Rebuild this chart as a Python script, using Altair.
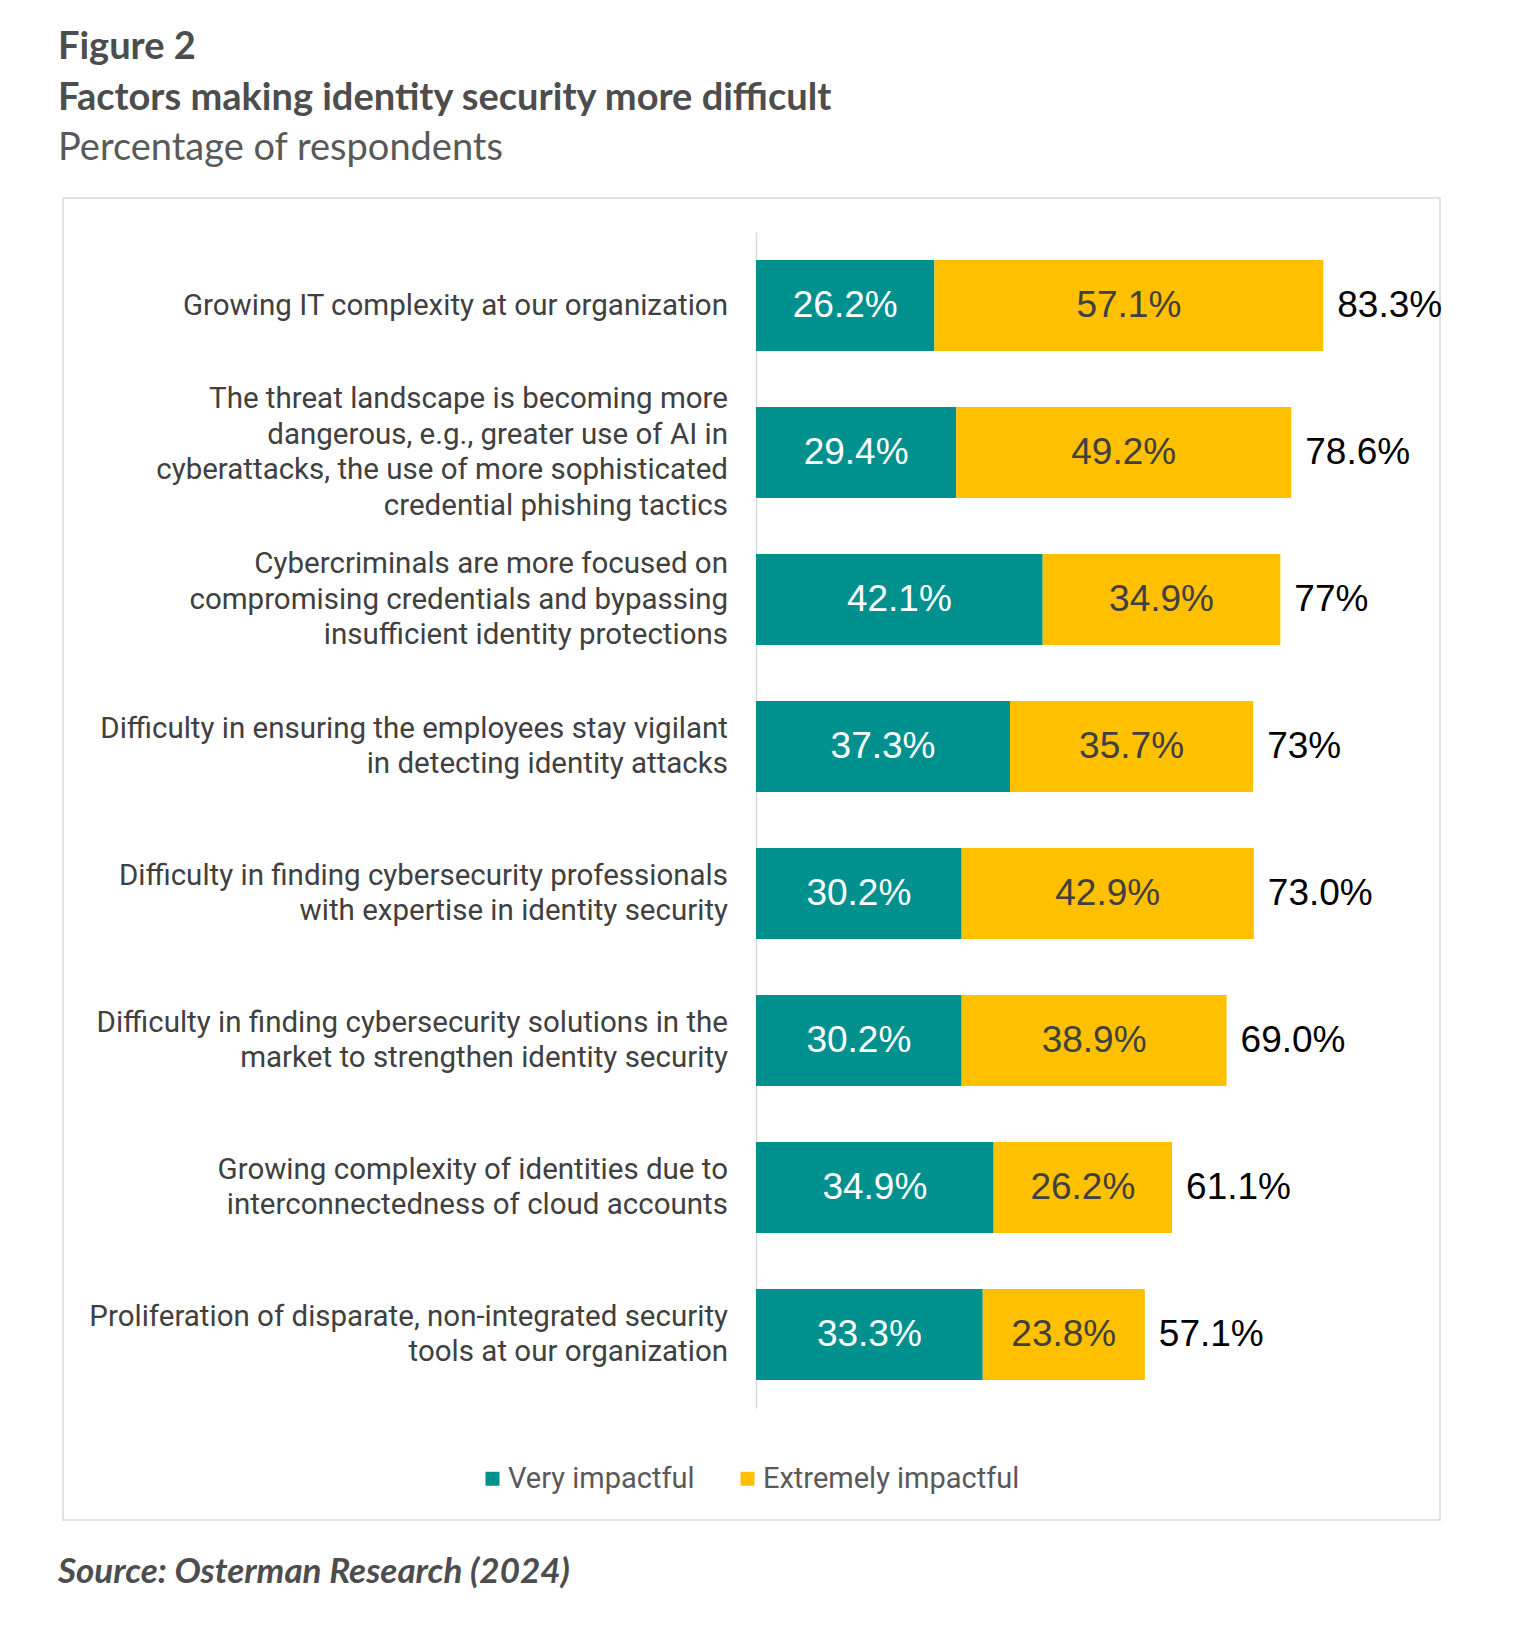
import altair as alt
import pandas as pd

categories = [
    "Growing IT complexity at our organization",
    "The threat landscape is becoming more|dangerous, e.g., greater use of AI in|cyberattacks, the use of more sophisticated|credential phishing tactics",
    "Cybercriminals are more focused on|compromising credentials and bypassing|insufficient identity protections",
    "Difficulty in ensuring the employees stay vigilant|in detecting identity attacks",
    "Difficulty in finding cybersecurity professionals|with expertise in identity security",
    "Difficulty in finding cybersecurity solutions in the|market to strengthen identity security",
    "Growing complexity of identities due to|interconnectedness of cloud accounts",
    "Proliferation of disparate, non-integrated security|tools at our organization",
]
series_names = ["Very impactful", "Extremely impactful"]
very = [26.2, 29.4, 42.1, 37.3, 30.2, 30.2, 34.9, 33.3]
extremely = [57.1, 49.2, 34.9, 35.7, 42.9, 38.9, 26.2, 23.8]
very_labels = ["26.2%", "29.4%", "42.1%", "37.3%", "30.2%", "30.2%", "34.9%", "33.3%"]
extremely_labels = ["57.1%", "49.2%", "34.9%", "35.7%", "42.9%", "38.9%", "26.2%", "23.8%"]
total_labels = ["83.3%", "78.6%", "77%", "73%", "73.0%", "69.0%", "61.1%", "57.1%"]
colors = ["#00918F", "#FFC000"]

title_lines = ["Figure 2", "Factors making identity security more difficult"]
subtitle_text = "Percentage of respondents"
source_text = "Source: Osterman Research (2024)"

rows = []
for i, c in enumerate(categories):
    rows.append({"category": c, "series": series_names[0], "value": very[i], "label": very_labels[i], "order": 0})
    rows.append({"category": c, "series": series_names[1], "value": extremely[i], "label": extremely_labels[i], "order": 1})
df = pd.DataFrame(rows)

tot = pd.DataFrame({
    "category": categories,
    "total": [v + e for v, e in zip(very, extremely)],
    "label": total_labels,
})
cat_df = pd.DataFrame({"category": categories})

W = 681
H = 1176
LH = 35.5
P_INNER = 0.38
P_OUTER = 0.19
step = H / (len(categories) - P_INNER + 2 * P_OUTER)
bandwidth = step * (1 - P_INNER)

xscale = alt.Scale(domain=[0, 100], nice=False)
yscale = alt.Scale(domain=categories, paddingInner=P_INNER, paddingOuter=P_OUTER)
yenc = alt.Y(
    "category:N",
    sort=categories,
    scale=yscale,
    axis=alt.Axis(
        title=None,
        labels=False,
        ticks=False,
        domainColor="#d9d9d9",
        domainWidth=1.5,
        grid=False,
    ),
)

base = alt.Chart(df).transform_stack(
    stack="value", groupby=["category"], as_=["x0", "x1"], sort=[alt.SortField("order")]
).transform_calculate(mid="(datum.x0 + datum.x1) / 2")

bars = base.mark_bar().encode(
    y=yenc,
    x=alt.X("x0:Q", scale=xscale, axis=None),
    x2="x1:Q",
    color=alt.Color(
        "series:N",
        scale=alt.Scale(domain=series_names, range=colors),
        legend=alt.Legend(
            title=None,
            orient="none",
            legendX=-278,
            legendY=1232,
            direction="horizontal",
            symbolType="square",
            symbolSize=196,
            symbolStrokeWidth=0,
            labelFont="Roboto",
            labelFontSize=29,
            labelColor="#595959",
            labelLimit=0,
            columnPadding=38,
            labelOffset=1,
        ),
    ),
)

cat_text = alt.Chart(cat_df).transform_calculate(
    off=f"{bandwidth / 2} - (length(split(datum.category, '|')) - 1) * {LH / 2}"
).mark_text(
    font="Roboto", fontSize=29.5, lineHeight=LH, lineBreak="|", align="right", baseline="middle",
    color="#404040"
).encode(
    y=alt.Y("category:N", sort=categories, scale=yscale),
    yOffset=alt.YOffset("off:Q", scale=None),
    x=alt.value(-28),
    text="category:N",
)

seg_text = base.mark_text(font="Liberation Sans", fontSize=37, align="center", baseline="middle").encode(
    y=alt.Y("category:N", sort=categories, scale=yscale),
    x=alt.X("mid:Q", scale=xscale),
    text="label:N",
    color=alt.condition("datum.series == 'Very impactful'", alt.value("white"), alt.value("#404040")),
)

tot_text = alt.Chart(tot).mark_text(
    font="Liberation Sans", fontSize=37, align="left", baseline="middle", dx=14, color="black"
).encode(
    y=alt.Y("category:N", sort=categories, scale=yscale),
    x=alt.X("total:Q", scale=xscale),
    text="label:N",
)

one = pd.DataFrame({"t": [source_text]})
box = alt.Chart(one).mark_rect(filled=False, stroke="#d9d9d9", strokeWidth=1.5).encode(
    x=alt.value(-693), x2=alt.value(684), y=alt.value(-34), y2=alt.value(1288)
)
source = alt.Chart(one).mark_text(
    align="left", baseline="alphabetic", font="Lato", fontWeight="bold", fontStyle="italic",
    fontSize=35, color="#4d4d4d"
).encode(x=alt.value(-698), y=alt.value(1351), text="t:N")

chart = alt.layer(box, bars, cat_text, seg_text, tot_text, source).properties(
    width=W,
    height=H,
    padding={"left": 50, "top": 21, "right": 10, "bottom": 10},
    title=alt.TitleParams(
        text=title_lines,
        subtitle=subtitle_text,
        anchor="start",
        frame="bounds",
        font="Lato",
        fontSize=38,
        fontWeight="bold",
        color="#4d4d4d",
        lineHeight=51,
        subtitleFont="Lato",
        subtitleFontSize=38,
        subtitleColor="#595959",
        subtitleFontWeight="normal",
        subtitlePadding=12,
        offset=29,
    ),
).configure_view(stroke=None)

chart.save("out.html", embed_options={"renderer": "svg", "actions": False})
